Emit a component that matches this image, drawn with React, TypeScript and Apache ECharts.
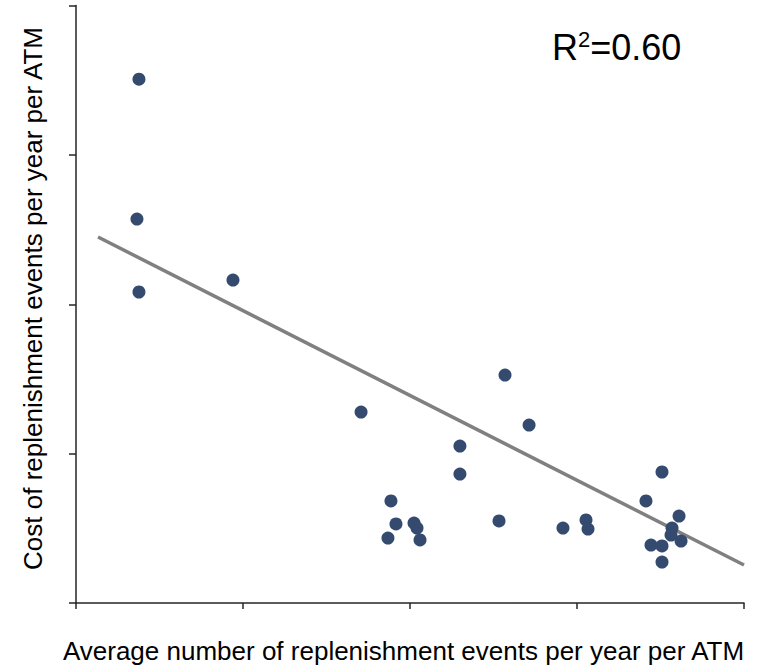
import React, { useEffect, useRef } from "react";
import * as echarts from "echarts";

const xValues = [0.377, 0.365, 0.377, 0.94, 1.707, 2.569, 2.713, 2.299, 2.299, 1.886, 1.916, 1.868, 2.024, 2.042, 2.06, 2.533, 2.916, 3.054, 3.066, 3.509, 3.413, 3.611, 3.569, 3.563, 3.443, 3.509, 3.623, 3.509];
const yValues = [3.507, 2.57, 2.082, 2.162, 1.278, 1.526, 1.191, 1.051, 0.863, 0.683, 0.529, 0.435, 0.535, 0.502, 0.422, 0.549, 0.502, 0.556, 0.495, 0.877, 0.683, 0.582, 0.502, 0.455, 0.388, 0.382, 0.415, 0.274];
const trendX = [0.132, 4.0];
const trendY = [2.45, 0.254];
const xTitle = "Average number of replenishment events per year per ATM";
const yTitle = "Cost of replenishment events per year per ATM";
const rSquared = "0.60";

const FONT = "'Liberation Sans', Arial, Helvetica, sans-serif";

export default function App() {
  const ref = useRef<HTMLDivElement>(null);
  useEffect(() => {
    if (!ref.current) return;
    const chart = echarts.init(ref.current, null, { renderer: "svg" });
    const axisLine = { show: true, lineStyle: { color: "#262626", width: 1.5 } };
    chart.setOption({
      animation: false,
      backgroundColor: "#ffffff",
      grid: { left: 76, right: 24, top: 5.5, bottom: 64, containLabel: false },
      xAxis: {
        type: "value",
        min: 0,
        max: 4,
        interval: 1,
        axisLine,
        axisTick: { show: true, length: 6, lineStyle: { color: "#262626", width: 1.5 } },
        axisLabel: { show: false },
        splitLine: { show: false },
      },
      yAxis: {
        type: "value",
        min: 0,
        max: 4,
        interval: 1,
        axisLine,
        axisTick: { show: true, length: 7, lineStyle: { color: "#262626", width: 1.5 } },
        axisLabel: { show: false },
        splitLine: { show: false },
      },
      series: [
        {
          type: "line",
          data: trendX.map((x, i) => [x, trendY[i]]),
          showSymbol: false,
          symbol: "none",
          lineStyle: { color: "#808080", width: 3.5 },
          z: 2,
        },
        {
          type: "scatter",
          data: xValues.map((x, i) => [x, yValues[i]]),
          symbol: "circle",
          symbolSize: 13,
          itemStyle: { color: "#344A6E", opacity: 1 },
          z: 3,
        },
      ],
      graphic: [
        {
          type: "text",
          x: 403.5,
          y: 651,
          style: {
            text: xTitle,
            font: `26px ${FONT}`,
            fill: "#000",
            textAlign: "center",
            textVerticalAlign: "middle",
          },
        },
        {
          type: "text",
          x: 33,
          y: 298.5,
          rotation: Math.PI / 2,
          style: {
            text: yTitle,
            font: `26px ${FONT}`,
            fill: "#000",
            textAlign: "center",
            textVerticalAlign: "middle",
          },
        },
        {
          type: "text",
          x: 552,
          y: 45,
          style: {
            text: `{r|R}{s|2}{r|=${rSquared}}`,
            textVerticalAlign: "middle",
            rich: {
              r: { font: `36px ${FONT}`, fill: "#000", verticalAlign: "bottom", lineHeight: 40 },
              s: { font: `22px ${FONT}`, fill: "#000", verticalAlign: "top", lineHeight: 40, padding: [3, 0, 0, 0] },
            },
          },
        },
      ],
    });
    return () => chart.dispose();
  }, []);
  return <div ref={ref} style={{ width: 768, height: 667, position: "absolute", left: 0, top: 0 }} />;
}
